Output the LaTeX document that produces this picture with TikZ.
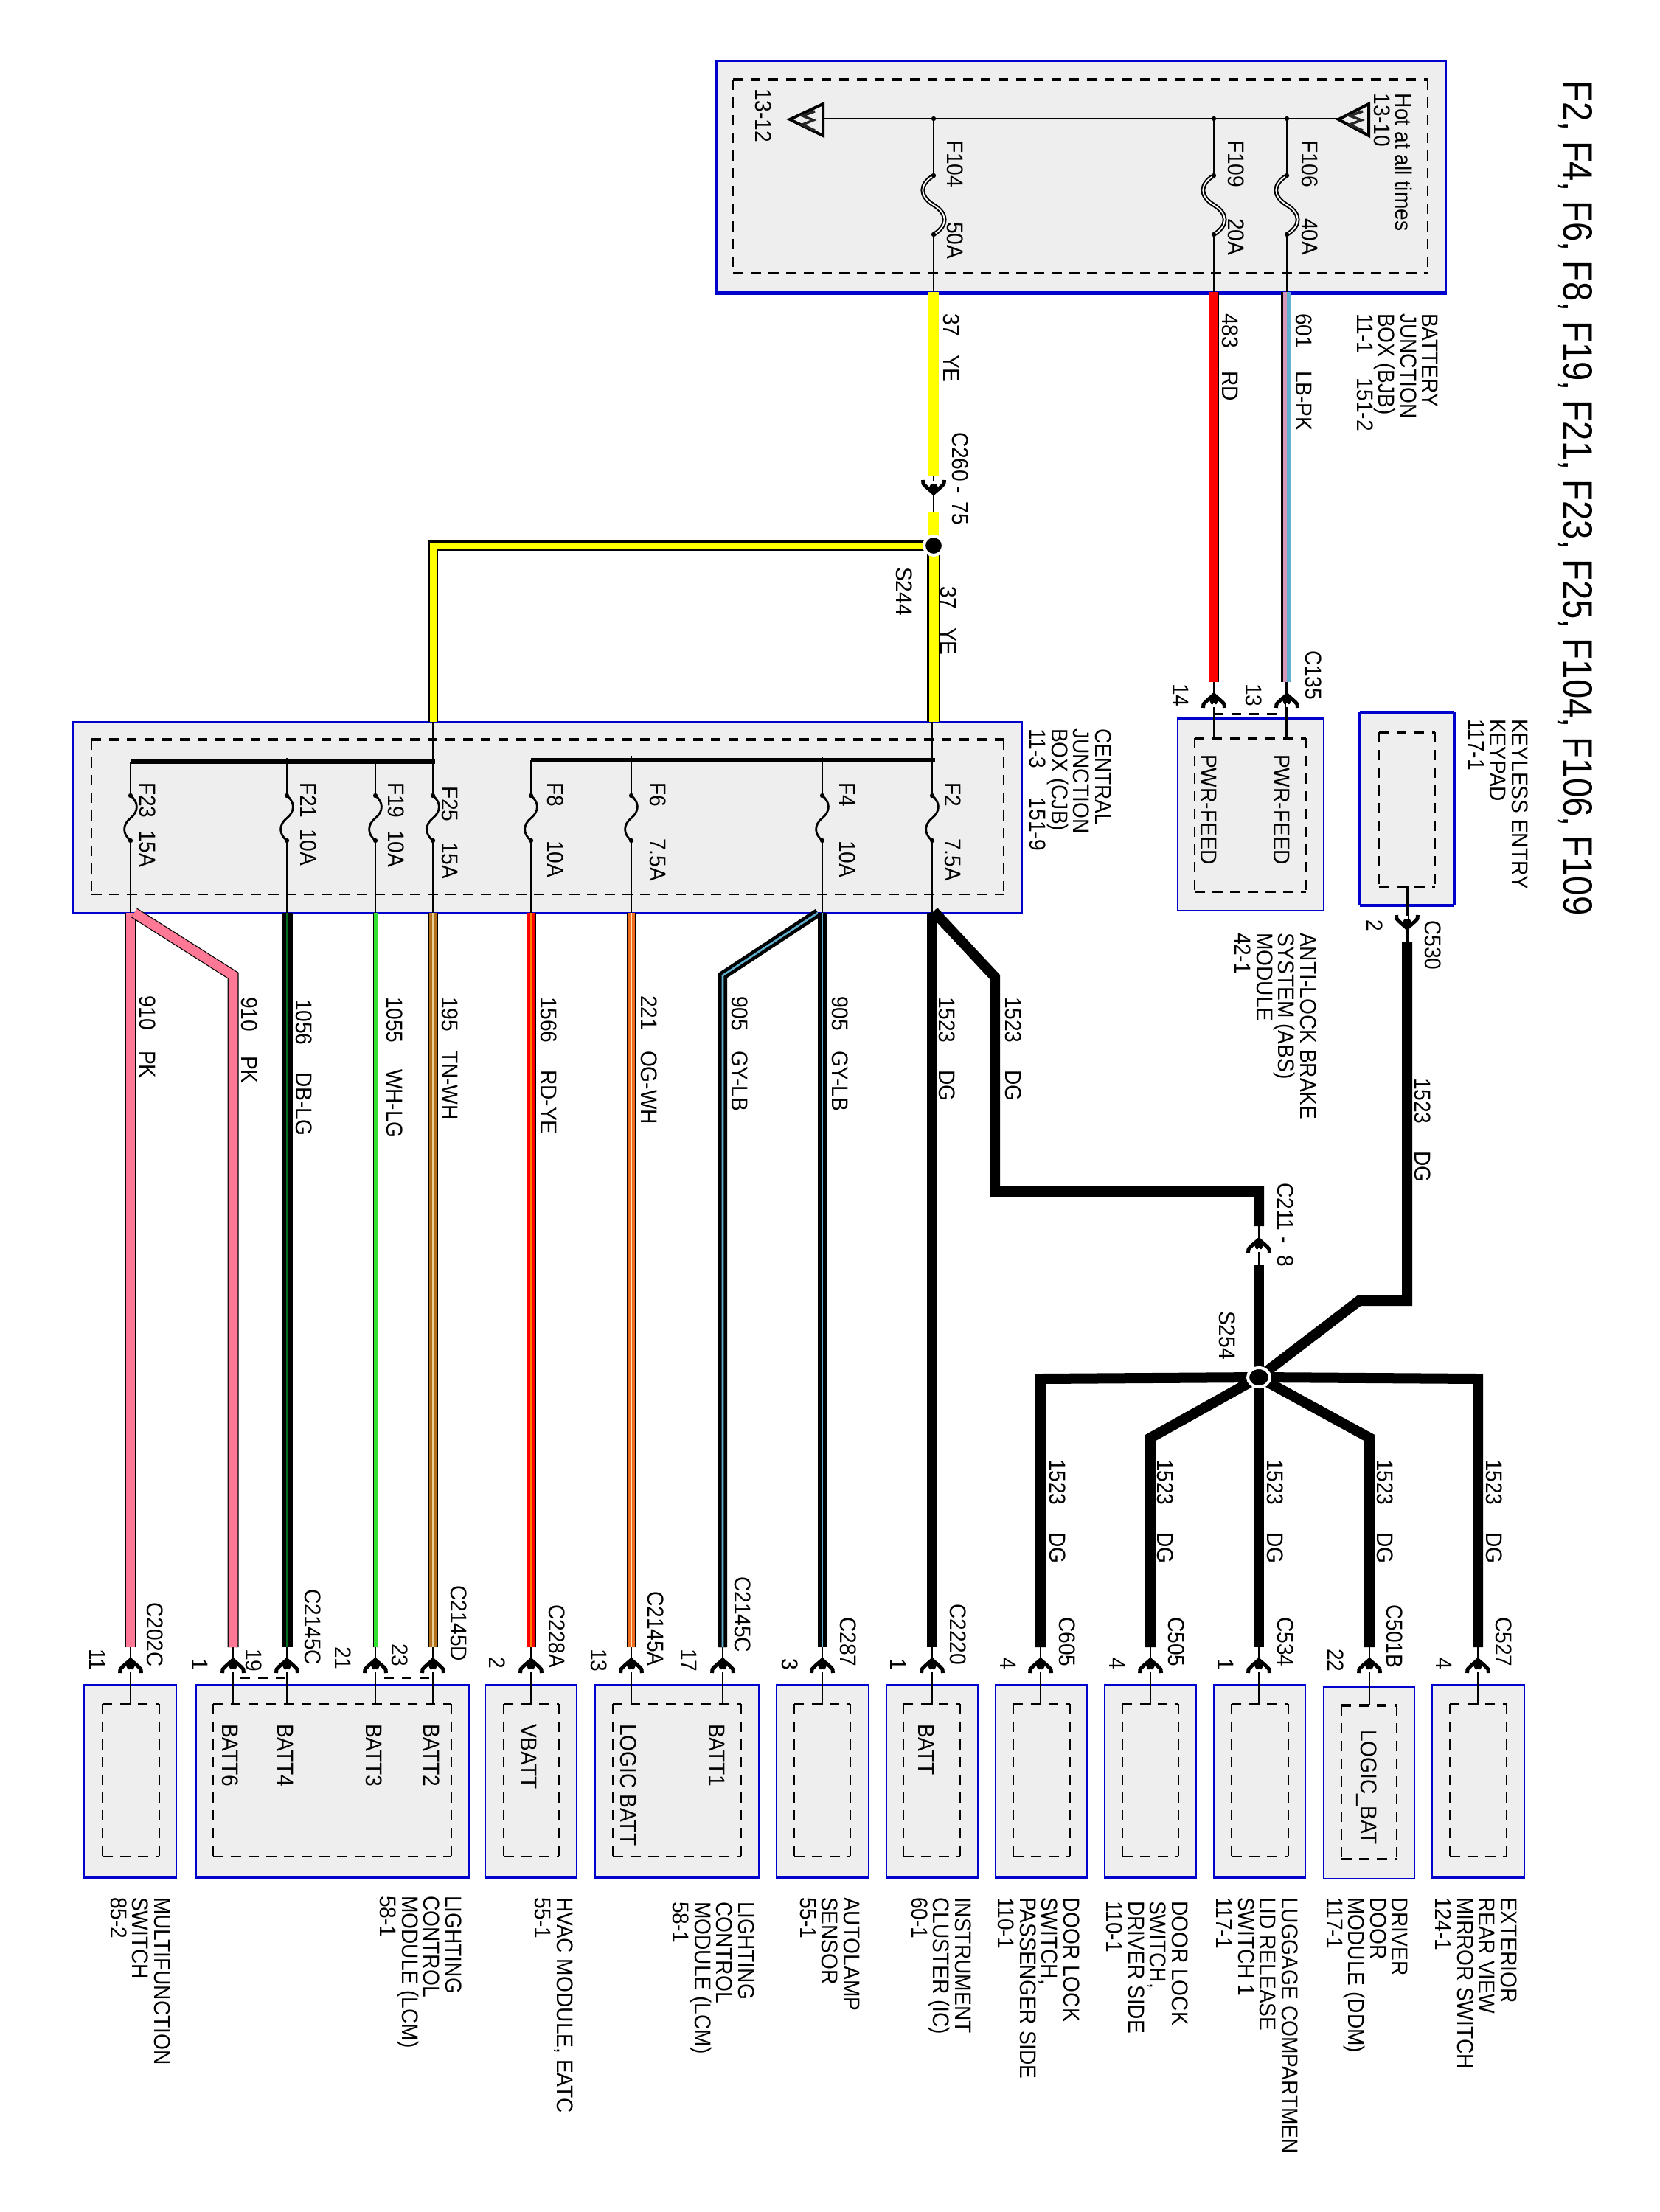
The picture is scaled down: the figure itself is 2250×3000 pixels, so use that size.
\documentclass[tikz,border=0pt]{standalone}
\usepackage{fontspec}
\setmainfont[FakeStretch=0.91]{Liberation Sans}
\newfontfamily\titlefont[FakeStretch=0.845]{Liberation Sans}
\usetikzlibrary{shapes.geometric}
\def\px{0.2845pt}
\definecolor{boxblue}{RGB}{0,0,205}
\definecolor{boxfill}{RGB}{238,238,238}
\definecolor{wpink}{RGB}{255,120,150}
\definecolor{wblue}{RGB}{96,176,208}
\definecolor{wlpink}{RGB}{215,150,185}
\definecolor{wgreen}{RGB}{50,225,50}
\definecolor{wdgreen}{RGB}{0,110,30}
\definecolor{wtan}{RGB}{178,112,28}
\definecolor{wtanl}{RGB}{235,205,150}
\definecolor{worange}{RGB}{240,106,32}
\definecolor{worangel}{RGB}{255,225,175}
\definecolor{wyell}{RGB}{255,255,0}
\newcounter{lblc}
\tikzset{
  devouter/.style={draw=boxblue,fill=boxfill,line width=2.6*\px,inner sep=0pt,rectangle},
  devinner/.style={inner sep=0pt,rectangle},
  dashthin/.style={line width=2.3*\px,black,dash pattern=on 14*\px off 10*\px},
  dashthick/.style={line width=4*\px,black,dash pattern=on 13*\px off 11*\px},
  edgeblue/.style={line width=4.5*\px,boxblue},
  stemw/.style={line width=2.8*\px,black},
  pinlink/.style={dashthick,line width=3*\px},
  blackw/.style={line width=14*\px,black},
  labn/.style={rotate=-90,anchor=north west,inner sep=0pt,outer sep=0pt,align=left,font=\fontsize{8.8}{8.4}\selectfont},
  dotn/.style={ellipse,fill=black,draw=white,line width=4*\px,inner sep=0pt},
  fbig/.style={black,line width=2*\px,double=white,double distance=1.8*\px},
  fsmall/.style={black,line width=2.8*\px}
}
% box with dashed interior
\newcommand{\devbox}[9]{%
  \node[devouter,minimum width={(#4-#2)*\px},minimum height={(#5-#3)*\px}] (#1) at ({(#2+#4)/2},{(#3+#5)/2}) {};
  \node[devinner,minimum width={(#8-#6)*\px},minimum height={(#9-#7)*\px}] (#1-in) at ({(#6+#8)/2},{(#7+#9)/2}) {};
  \draw[dashthick] (#1-in.north west) -- (#1-in.north east);
  \draw[dashthin] (#1-in.north west) -- (#1-in.south west);
  \draw[dashthin] (#1-in.north east) -- (#1-in.south east);
  \draw[dashthin] (#1-in.south west) -- (#1-in.south east);
}
\newcommand{\lbl}[3]{\stepcounter{lblc}\node[labn] (lbl\arabic{lblc}) at (#1,#2) {#3};}
\newcommand{\wl}[5]{\pgfmathsetmacro\gapw{(#5-#2)*0.2845}\lbl{#1}{#2}{\makebox[\gapw pt][l]{#3}#4}}
\newcommand{\cwire}[3]{\draw[line width=#1*\px,black]#3;\draw[line width=(#1-2.5)*\px,#2]#3;}
\newcommand{\swire}[5]{\draw[line width=#1*\px,black]#5;\draw[line width=(#1-2.5)*\px,#2]#5;\draw[line width=#4*\px,#3]#5;}
% connector chevron: x, apex y, direction
\newcommand{\chev}[3]{%
  \begin{scope}[shift={(#1,#2)},yscale=#3]
    \draw[line width=5*\px,black,line join=round] (-14.5,20) -- (-14,15) .. controls (-9,9) and (-4,6) .. (0,2) .. controls (4,6) and (9,9) .. (14,15) -- (14.5,20);
    \fill[black] (0,-1) -- (7,8) -- (3.5,15) -- (-3.5,15) -- (-7,8) -- cycle;
    \fill[white] (-0.9,14) rectangle (0.9,19);
  \end{scope}}
% stem with fuse: x, top, fuse start, fuse end, bottom, amplitude, curve style
\newcommand{\fusew}[7]{%
  \pgfmathsetmacro\fm{(#3+#4)/2}\pgfmathsetmacro\fa{#1+1.4*#6}\pgfmathsetmacro\fb{#1-1.4*#6}%
  \pgfmathsetmacro\fh{(#4-#3)*0.15}\pgfmathsetmacro\fpa{#3+\fh}\pgfmathsetmacro\fpb{\fm-\fh}\pgfmathsetmacro\fpc{\fm+\fh}\pgfmathsetmacro\fpd{#4-\fh}%
  \draw[stemw] (#1,#2) -- (#1,#3);
  \draw[stemw] (#1,#4) -- (#1,#5);
  \draw[#7] (#1,#3) .. controls (\fa,\fpa) and (\fa,\fpb) .. (#1,\fm) .. controls (\fb,\fpc) and (\fb,\fpd) .. (#1,#4);
  \fill[black] (#1,#3) circle[radius=0.9pt];
  \fill[black] (#1,#4) circle[radius=0.9pt];
}
\begin{document}
\begin{tikzpicture}[x=0.01cm,y=-0.01cm]
\useasboundingbox (0,0) rectangle (2250,3000);
\fill[white] (0,0) rectangle (2250,3000);

% title
\node[rotate=-90,anchor=north west,inner sep=0pt,font=\titlefont\fontsize{15.9}{17}\selectfont] (title) at (2160,109) {F2, F4, F6, F8, F19, F21, F23, F25, F104, F106, F109};

% boxes
\devbox{bjb}{972}{83}{1960}{396}{995}{109}{1935}{369}
\devbox{cjb}{99}{979}{1385}{1238}{125}{1004}{1360}{1212}
\devbox{abs}{1597}{976}{1795}{1235}{1621}{1002}{1770}{1209}
\devbox{key}{1845}{967}{1971}{1227}{1871}{994}{1945}{1202}
\devbox{multi}{114}{2285}{239}{2545}{140}{2312}{215}{2517}
\devbox{lcma}{266}{2285}{636}{2545}{290}{2312}{611}{2517}
\devbox{hvac}{658}{2285}{782}{2545}{684}{2312}{757}{2517}
\devbox{lcmb}{807}{2285}{1029}{2545}{832}{2312}{1004}{2517}
\devbox{auto}{1053}{2285}{1178}{2545}{1078}{2312}{1152}{2517}
\devbox{ic}{1202}{2285}{1326}{2545}{1226}{2312}{1301}{2517}
\devbox{dlp}{1350}{2285}{1474}{2545}{1375}{2312}{1450}{2517}
\devbox{dld}{1498}{2285}{1622}{2545}{1523}{2312}{1597}{2517}
\devbox{lug}{1646}{2285}{1770}{2545}{1671}{2312}{1746}{2517}
\devbox{ddm}{1795}{2288}{1918}{2548}{1820}{2314}{1893}{2520}
\devbox{ext}{1942}{2285}{2067}{2545}{1967}{2312}{2042}{2517}
% heavier blue edges
\foreach \b in {bjb,multi,lcma,hvac,lcmb,auto,ic,dlp,dld,lug,ext}{\draw[edgeblue] (\b.south west) -- (\b.south east);}
\draw[edgeblue] (abs.north west) -- (abs.north east);
\foreach \s in {north,south}{\draw[line width=3.4*\px,boxblue] (key.\s\space west) -- (key.\s\space east);}
\draw[line width=3.4*\px,boxblue] (key.north west) -- (key.south west);
\draw[line width=3.4*\px,boxblue] (key.north east) -- (key.south east);

% named points
\coordinate (s244c) at (1266,740);
\coordinate (s254c) at (1707,1868);
\coordinate (y1a) at (1266,396); \coordinate (y1b) at (1266,646); \coordinate (y1c) at (1266,694);
\coordinate (y2a) at (1266,979); \coordinate (y3a) at (587,740); \coordinate (y3b) at (587,979);
\coordinate (r1a) at (1646,396); \coordinate (r1b) at (1646,925); \coordinate (r1c) at (1646,1002);
\coordinate (b1a) at (1745,396); \coordinate (b1b) at (1745,925); \coordinate (b1c) at (1745,1002);
\coordinate (k1a) at (1908,1202); \coordinate (k1b) at (1908,1278); \coordinate (k1c) at (1908,1764); \coordinate (k1d) at (1843,1764);
\coordinate (dga) at (1266,1236); \coordinate (dgb) at (1349,1325); \coordinate (dgc) at (1349,1616); \coordinate (dgd) at (1707,1616); \coordinate (dge) at (1707,1663); \coordinate (dgf) at (1707,1715);
\coordinate (dgl) at (1411,1870); \coordinate (dgr) at (2004,1870); \coordinate (dgp) at (1560,1950); \coordinate (dgq) at (1857,1950);
\coordinate (pka) at (182,1238); \coordinate (pkb) at (316,1323);
\coordinate (gya) at (1109,1238); \coordinate (gyb) at (980,1323);
\foreach \x in {177,316,389,509,587,720,856,980,1115,1264,1411,1560,1707,1857,2004}{
  \coordinate (w\x) at (\x,2234); \coordinate (d\x) at (\x,2312);
  \coordinate (t\x) at (\x,1238);
  \draw[stemw] (w\x) -- (d\x);
}

% BJB interior
\draw[line width=2.8*\px,black] (1116,161) -- (1815,161);
\draw[line width=4*\px,black,line join=miter] (1116,141) -- (1071,162) -- (1116,184) -- cycle;
\draw[line width=3.4*\px,black!85] (1105,151) -- (1088,157) -- (1103,163) -- (1088,169) -- (1105,177);
\draw[line width=4*\px,black,line join=miter] (1856,141) -- (1815,162) -- (1856,184) -- cycle;
\draw[line width=3.4*\px,black!85] (1848,151) -- (1830,157) -- (1846,163) -- (1830,169) -- (1848,177);
\fusew{1266}{161}{238}{318}{396}{-14}{fbig}
\fusew{1646}{161}{238}{318}{396}{-14}{fbig}
\fusew{1745}{161}{238}{318}{396}{-14}{fbig}
\foreach \x in {1266,1646,1745}{\fill[black] (\x,161) circle[radius=0.9pt];}

% CJB interior
\draw[line width=6*\px,black] (720,1031) -- (1268,1031);
\draw[line width=6*\px,black] (177,1033) -- (590,1033);
\fusew{1264}{979}{1079}{1140}{1238}{8}{fsmall}
\fusew{1115}{1026}{1079}{1140}{1238}{8}{fsmall}
\fusew{856}{1025}{1079}{1140}{1238}{8}{fsmall}
\fusew{720}{1031}{1079}{1140}{1238}{8}{fsmall}
\fusew{587}{979}{1079}{1140}{1238}{8}{fsmall}
\fusew{509}{1033}{1079}{1140}{1238}{8}{fsmall}
\fusew{389}{1028}{1079}{1140}{1238}{8}{fsmall}
\fusew{177}{1033}{1079}{1140}{1238}{8}{fsmall}

% yellow wires
\draw[line width=14*\px,wyell] (y1a) -- (y1b);
\draw[line width=14*\px,wyell] (y1c) -- (s244c);
\draw[line width=18*\px,black] (s244c) -- (y2a);
\draw[line width=13*\px,wyell] (s244c) -- (y2a);
\draw[line width=14*\px,black,line join=miter] (s244c) -- (y3a) -- (y3b);
\draw[line width=9*\px,wyell,line join=miter] (s244c) -- (y3a) -- (y3b);
\node[dotn,minimum width=26*\px,minimum height=26*\px] (s244) at (s244c) {};

% red and blue wires to ABS
\cwire{14}{red}{(r1a) -- (r1b)}
\draw[stemw] (r1b) -- (r1c);
\draw[line width=3.5*\px,black] ([xshift=-0.065cm]b1a) -- ([xshift=-0.065cm]b1b);
\draw[line width=5*\px,wlpink] ([xshift=-0.025cm]b1a) -- ([xshift=-0.025cm]b1b);
\draw[line width=6*\px,wblue] ([xshift=0.03cm]b1a) -- ([xshift=0.03cm]b1b);
\draw[line width=3.5*\px,black] (b1b) -- (b1c);
\chev{1646}{940}{1}
\chev{1745}{940}{1}
\draw[pinlink] (1646,968) -- (1735,968);

% keypad wire
\draw[line width=3.5*\px,black] (k1a) -- (k1b);
\draw[blackw,line join=miter] (k1b) -- (k1c) -- (k1d) -- (s254c);
\chev{1908}{1261}{-1}

% harness to lower modules
\cwire{14}{wpink}{(t177) -- (w177)}
\cwire{15}{wpink}{(pka) -- (pkb) -- (w316)}
\swire{15}{black}{wdgreen}{1.5}{(t389) -- (w389)}
\draw[line width=7*\px,black] (t509) -- (w509);
\draw[line width=5.4*\px,wgreen] ([xshift=0.008cm]t509) -- ([xshift=0.008cm]w509);
\swire{13}{wtan}{wtanl}{2.5}{(t587) -- (w587)}
\swire{13}{red}{orange}{2}{(t720) -- (w720)}
\swire{13}{worange}{worangel}{2}{(t856) -- (w856)}
\swire{12}{black}{wblue}{2.6}{(gya) -- (gyb) -- (w980)}
\swire{13}{black}{wblue}{1.5}{(t1115) -- (w1115)}
\draw[blackw] (t1264) -- (w1264);
\draw[blackw,line join=miter] (dga) -- (dgb) -- (dgc) -- (dgd) -- (dge);
\draw[stemw] (dge) -- (dgf);
\draw[blackw] (dgf) -- (s254c);
\draw[blackw,line join=miter] (s254c) -- (dgl) -- (w1411);
\draw[blackw,line join=miter] (s254c) -- (dgr) -- (w2004);
\draw[blackw,line join=miter] (s254c) -- (dgp) -- (w1560);
\draw[blackw,line join=miter] (s254c) -- (dgq) -- (w1857);
\draw[blackw] (s254c) -- (w1707);
\node[dotn,minimum width=30*\px,minimum height=26*\px] (s254) at (s254c) {};
\chev{1707}{1679}{1}
\draw[stemw] (y1b) -- (y1c);
\chev{1266}{671}{-1}

% lower chevrons and pin links
\foreach \x in {177,316,389,509,587,720,856,980,1115,1264,1411,1560,1707,1857,2004}{\chev{\x}{2249}{1}}
\draw[pinlink] (326,2275) -- (388,2275);
\draw[pinlink] (521,2275) -- (585,2275);

% BJB texts
\lbl{1046}{121}{13-12}
\lbl{1915}{127}{Hot at all times\\13-10}
\lbl{1306}{190}{F104} \lbl{1306}{301}{50A}
\lbl{1687}{190}{F109} \lbl{1687}{296}{20A}
\lbl{1787}{190}{F106} \lbl{1787}{296}{40A}
\lbl{1950}{425}{BATTERY\\JUNCTION\\BOX (BJB)\\\makebox[25pt][l]{11-1}151-2}
\wl{1301}{425}{37}{YE}{481}
\wl{1679}{425}{483}{RD}{503}
\wl{1779}{425}{601}{LB-PK}{503}
\lbl{1313}{586}{\makebox[21pt][l]{C260}\makebox[6pt][l]{-}75}
\lbl{1237}{769}{S244}
\wl{1297}{795}{37}{YE}{851}
\lbl{1792}{882}{C135}
\lbl{1612}{927}{14}
\lbl{1711}{927}{13}

% keypad and ABS
\lbl{2072}{975}{KEYLESS ENTRY\\KEYPAD\\117-1}
\lbl{1875}{1247}{2}
\lbl{1954}{1248}{C530}
\lbl{1650}{1023}{PWR-FEED}
\lbl{1749}{1023}{PWR-FEED}
\lbl{1785}{1265}{ANTI-LOCK BRAKE\\SYSTEM (ABS)\\MODULE\\42-1}
\wl{1940}{1462}{1523}{DG}{1561}

% CJB texts
\lbl{1507}{988}{CENTRAL\\JUNCTION\\BOX (CJB)\\\makebox[26.7pt][l]{11-3}151-9}
\lbl{1303}{1061}{F2} \lbl{1303}{1137}{7.5A}
\lbl{1160}{1061}{F4} \lbl{1160}{1140}{10A}
\lbl{903}{1061}{F6} \lbl{903}{1137}{7.5A}
\lbl{764}{1061}{F8} \lbl{764}{1140}{10A}
\lbl{621}{1066}{F25} \lbl{621}{1142}{15A}
\lbl{548}{1061}{F19} \lbl{548}{1126}{10A}
\lbl{429}{1061}{F21} \lbl{429}{1124}{10A}
\lbl{211}{1061}{F23} \lbl{211}{1126}{15A}

% wire labels
\wl{1295}{1352}{1523}{DG}{1451}
\wl{1385}{1352}{1523}{DG}{1451}
\wl{1150}{1351}{905}{GY-LB}{1425}
\wl{1014}{1351}{905}{GY-LB}{1425}
\wl{891}{1350}{221}{OG-WH}{1425}
\wl{755}{1352}{1566}{RD-YE}{1451}
\wl{621}{1352}{195}{TN-WH}{1425}
\wl{546}{1352}{1055}{WH-LG}{1450}
\wl{423}{1355}{1056}{DB-LG}{1454}
\wl{349}{1352}{910}{PK}{1432}
\wl{211}{1350}{910}{PK}{1425}
\lbl{1754}{1604}{\makebox[21pt][l]{C211}\makebox[7pt][l]{-}8}
\lbl{1675}{1778}{S254}
\wl{1445}{1979}{1523}{DG}{2078}
\wl{1591}{1979}{1523}{DG}{2078}
\wl{1740}{1979}{1523}{DG}{2078}
\wl{1889}{1979}{1523}{DG}{2078}
\wl{2037}{1979}{1523}{DG}{2078}

% connector labels
\lbl{221}{2173}{C202C} \lbl{143}{2236}{11}
\lbl{282}{2249}{1} \lbl{355}{2236}{19}
\lbl{435}{2155}{C2145C} \lbl{476}{2233}{21}
\lbl{553}{2229}{23} \lbl{633}{2150}{C2145D}
\lbl{766}{2176}{C228A} \lbl{685}{2247}{2}
\lbl{823}{2236}{13} \lbl{900}{2158}{C2145A}
\lbl{945}{2236}{17} \lbl{1018}{2138}{C2145C}
\lbl{1082}{2249}{3} \lbl{1161}{2193}{C287}
\lbl{1229}{2249}{1} \lbl{1310}{2175}{C2220}
\lbl{1378}{2248}{4} \lbl{1458}{2193}{C605}
\lbl{1526}{2248}{4} \lbl{1606}{2193}{C505}
\lbl{1673}{2249}{1} \lbl{1754}{2193}{C534}
\lbl{1822}{2236}{22} \lbl{1902}{2176}{C501B}
\lbl{1969}{2248}{4} \lbl{2050}{2193}{C527}

% pin names
\lbl{323}{2338}{BATT6} \lbl{398}{2338}{BATT4}
\lbl{518}{2338}{BATT3} \lbl{596}{2338}{BATT2}
\lbl{728}{2338}{VBATT} \lbl{863}{2338}{LOGIC BATT}
\lbl{983}{2338}{BATT1} \lbl{1267}{2338}{BATT}
\lbl{1867}{2346}{LOGIC\_BAT}

% module names
\lbl{231}{2573}{MULTIFUNCTION\\SWITCH\\85-2}
\lbl{626}{2571}{LIGHTING\\CONTROL\\MODULE (LCM)\\58-1}
\lbl{777}{2573}{HVAC MODULE, EATC\\55-1}
\lbl{1023}{2579}{LIGHTING\\CONTROL\\MODULE (LCM)\\58-1}
\lbl{1166}{2573}{AUTOLAMP\\SENSOR\\55-1}
\lbl{1317}{2573}{INSTRUMENT\\CLUSTER (IC)\\60-1}
\lbl{1464}{2573}{DOOR LOCK\\SWITCH,\\PASSENGER SIDE\\110-1}
\lbl{1611}{2578}{DOOR LOCK\\SWITCH,\\DRIVER SIDE\\110-1}
\lbl{1760}{2573}{LUGGAGE COMPARTMEN\\LID RELEASE\\SWITCH 1\\117-1}
\lbl{1909}{2573}{DRIVER\\DOOR\\MODULE (DDM)\\117-1}
\lbl{2057}{2573}{EXTERIOR\\REAR VIEW\\MIRROR SWITCH\\124-1}
\end{tikzpicture}
\end{document}
